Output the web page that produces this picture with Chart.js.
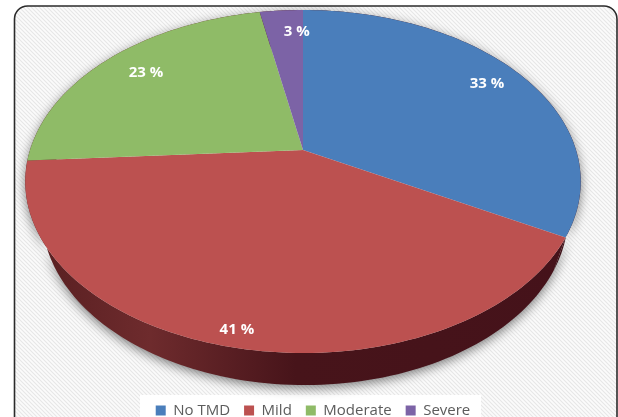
<!DOCTYPE html>
<html>
<head>
<meta charset="utf-8">
<style>
  html, body { margin: 0; padding: 0; background: #fff; }
  canvas { display: block; }
</style>
<script src="https://cdn.jsdelivr.net/npm/chart.js@4/dist/chart.umd.js"></script>
</head>
<body>
<canvas id="chart" width="618" height="417"></canvas>
<script>
const categories = ['No TMD', 'Mild', 'Moderate', 'Severe'];
const shares = [33, 41, 23, 3];
const faceColors = ['#4a7ebb', '#bc5150', '#8fbb67', '#7c63a6'];

// Perspective view of a tilted disc: upper face and the lower rim of the slab.
const FACE = { x: 303, y: 150, a: 273, b: 165.7, p: 0.1837 };
const BASE = { x: 305, y: 183.8, a: 258.6, b: 164.3, p: 0.1837 };
const LABEL_REACH = [0.845, 0.926, 0.81, 0.82];
const LABEL_TURN = [0, 0, 0.022, 0.062];

function project(view, angle, r) {
  const u = r * Math.cos(angle), v = r * Math.sin(angle);
  const w = 1 - view.p * v;
  return { x: view.x + view.a * u / w, y: view.y + view.b * v / w };
}

function traceRim(ctx, view, from, to) {
  const steps = Math.max(2, Math.ceil(Math.abs(to - from) * 40));
  for (let i = 0; i <= steps; i++) {
    const p = project(view, from + (to - from) * i / steps, 1);
    ctx.lineTo(p.x, p.y);
  }
}

// Slices are painted through the projection above, using the angles Chart.js computed.
const Arc = Chart.registry.getElement('arc');
Arc.prototype.draw = function (ctx) {
  const c = project(FACE, 0, 0);
  ctx.save();
  ctx.beginPath();
  ctx.moveTo(c.x, c.y);
  traceRim(ctx, FACE, this.startAngle, this.endAngle);
  ctx.closePath();
  ctx.fillStyle = this.options.backgroundColor;
  ctx.fill();
  ctx.restore();
};

function roundedFrame(ctx) {
  ctx.beginPath();
  ctx.roundRect(14.5, 6, 602.5, 440, 13);
}

const backdrop = {
  id: 'backdrop',
  beforeDraw(chart) {
    const ctx = chart.ctx;
    const tile = document.createElement('canvas');
    tile.width = tile.height = 4;
    const t = tile.getContext('2d');
    t.fillStyle = '#fbfbfb';
    t.fillRect(0, 0, 4, 4);
    t.strokeStyle = '#e6e6e6';
    t.lineWidth = 1.1;
    t.beginPath();
    t.moveTo(-1, -1); t.lineTo(5, 5);
    t.moveTo(-1, 3); t.lineTo(1, 5);
    t.moveTo(3, -1); t.lineTo(5, 1);
    t.stroke();
    ctx.save();
    ctx.fillStyle = '#fff';
    ctx.fillRect(0, 0, chart.width, chart.height);
    roundedFrame(ctx);
    ctx.fillStyle = ctx.createPattern(tile, 'repeat');
    ctx.fill();
    ctx.strokeStyle = '#2b2b2b';
    ctx.lineWidth = 1.6;
    ctx.stroke();
    ctx.fillStyle = '#ffffff';
    ctx.fillRect(140, 395, 341, 22);
    ctx.restore();
  }
};

const slabWall = {
  id: 'slabWall',
  beforeDatasetsDraw(chart) {
    const ctx = chart.ctx;
    const g = ctx.createLinearGradient(46, 0, 566, 0);
    g.addColorStop(0, '#5a2022');
    g.addColorStop(0.2, '#6e2b2d');
    g.addColorStop(0.48, '#47141a');
    g.addColorStop(1, '#45121a');
    ctx.save();
    ctx.shadowColor = 'rgba(0,0,0,0.5)';
    ctx.shadowBlur = 11;
    ctx.shadowOffsetY = 3;
    ctx.fillStyle = g;
    chart.getDatasetMeta(0).data.forEach(el => {
      ctx.beginPath();
      traceRim(ctx, FACE, el.startAngle, el.endAngle);
      traceRim(ctx, BASE, el.endAngle, el.startAngle);
      ctx.closePath();
      ctx.fill();
    });
    ctx.restore();
  }
};

const sliceLabels = {
  id: 'sliceLabels',
  afterDatasetsDraw(chart) {
    const ctx = chart.ctx;
    ctx.save();
    ctx.fillStyle = '#ffffff';
    ctx.font = 'bold 15px "Open Sans"';
    ctx.textAlign = 'center';
    ctx.textBaseline = 'middle';
    chart.getDatasetMeta(0).data.forEach((el, i) => {
      const mid = (el.startAngle + el.endAngle) / 2 + LABEL_TURN[i];
      const p = project(FACE, mid, LABEL_REACH[i]);
      ctx.fillText(shares[i] + ' %', p.x, p.y);
    });
    ctx.restore();
  }
};

new Chart(document.getElementById('chart'), {
  type: 'pie',
  data: {
    labels: categories,
    datasets: [{ data: shares, backgroundColor: faceColors, borderWidth: 0 }]
  },
  plugins: [backdrop, slabWall, sliceLabels],
  options: {
    responsive: false,
    animation: false,
    layout: { padding: { left: 8, bottom: -11 } },
    plugins: {
      tooltip: { enabled: false },
      legend: {
        position: 'bottom',
        labels: {
          boxWidth: 10,
          boxHeight: 10,
          padding: 14,
          color: '#5c5c5c',
          font: { family: '"Open Sans"', size: 15 }
        }
      }
    }
  }
});
</script>
</body>
</html>
